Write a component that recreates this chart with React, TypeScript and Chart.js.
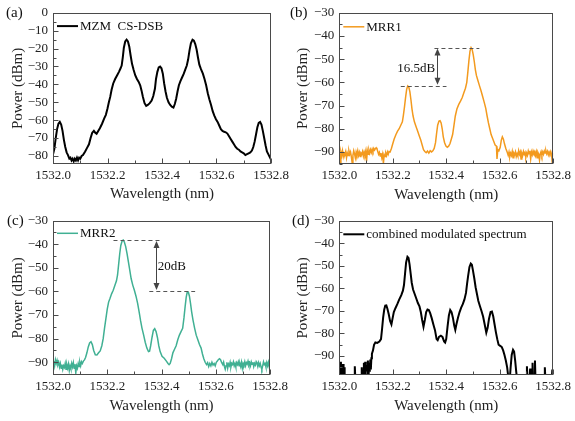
import React, { useEffect, useRef } from 'react';
import { Chart, registerables } from 'chart.js';
Chart.register(...registerables);

const FONT = "'Liberation Serif', 'Times New Roman', serif";

const X_TICKS = [1532.0, 1532.2, 1532.4, 1532.6, 1532.8];
const Y_TICKS_A = [0, -10, -20, -30, -40, -50, -60, -70, -80];
const Y_TICKS_B = [-30, -40, -50, -60, -70, -80, -90];

// (a) MZM CS-DSB
const A_WL = [1532.000,1532.005,1532.010,1532.015,1532.020,1532.025,1532.030,1532.035,1532.040,1532.045,1532.050,1532.055,1532.060,1532.064,1532.068,1532.072,1532.076,1532.080,1532.084,1532.088,1532.092,1532.096,1532.100,1532.105,1532.110,1532.118,1532.125,1532.132,1532.138,1532.144,1532.150,1532.155,1532.160,1532.166,1532.172,1532.180,1532.188,1532.194,1532.200,1532.205,1532.210,1532.215,1532.221,1532.228,1532.235,1532.242,1532.248,1532.252,1532.256,1532.260,1532.265,1532.270,1532.275,1532.280,1532.285,1532.290,1532.296,1532.302,1532.308,1532.314,1532.320,1532.325,1532.330,1532.336,1532.342,1532.348,1532.355,1532.362,1532.368,1532.374,1532.378,1532.383,1532.388,1532.393,1532.398,1532.403,1532.408,1532.413,1532.418,1532.424,1532.430,1532.436,1532.442,1532.447,1532.452,1532.457,1532.462,1532.468,1532.474,1532.480,1532.486,1532.491,1532.496,1532.501,1532.506,1532.512,1532.517,1532.522,1532.527,1532.532,1532.537,1532.543,1532.550,1532.556,1532.562,1532.568,1532.574,1532.580,1532.586,1532.592,1532.598,1532.604,1532.610,1532.616,1532.622,1532.628,1532.634,1532.640,1532.646,1532.652,1532.658,1532.664,1532.670,1532.676,1532.682,1532.688,1532.694,1532.700,1532.706,1532.712,1532.718,1532.724,1532.730,1532.735,1532.740,1532.745,1532.750,1532.755,1532.760,1532.765,1532.770,1532.775,1532.780,1532.785,1532.790,1532.795,1532.800];
const A_DBM = [-79,-76,-70,-65,-62,-61,-62.5,-66,-71,-75,-78,-79.5,-81.5,-81,-82.5,-81.5,-83,-81.5,-82.5,-81,-82.5,-81,-81.5,-80,-79.5,-77.5,-75.5,-73.5,-70,-67,-66,-67,-67.6,-66,-64.5,-62,-59,-57,-53.5,-50,-47,-43,-39.5,-37,-35,-33,-31,-29.5,-25,-19.5,-16,-15,-16,-19,-24,-28.5,-32,-35,-37,-38.5,-40.5,-43.5,-47,-50.5,-52,-51.5,-50.5,-49,-46.5,-42.5,-37,-33,-30.5,-30,-31,-34,-39.5,-44,-47.5,-50,-51.5,-52.5,-53,-51,-48,-44,-40.5,-38,-36,-34,-31.5,-29.5,-26,-21,-17,-15,-15.5,-17.5,-20.5,-25,-29,-31.5,-34,-37,-40.5,-45,-48.5,-51.5,-55,-57.5,-59.5,-61,-63,-65,-66,-66.5,-66.8,-67.5,-69,-70.5,-72,-73.5,-75,-76,-76.5,-77.5,-78,-78.5,-79.5,-79,-78.5,-78,-77,-75,-72,-68,-64,-61.5,-61,-62.5,-66,-70,-74,-77.5,-79,-80.5,-82];

// (b) MRR1
const B_WL = [1532.000,1532.003,1532.006,1532.009,1532.012,1532.015,1532.018,1532.021,1532.024,1532.027,1532.030,1532.033,1532.036,1532.039,1532.042,1532.045,1532.048,1532.051,1532.054,1532.057,1532.060,1532.063,1532.066,1532.069,1532.072,1532.075,1532.078,1532.081,1532.084,1532.087,1532.090,1532.093,1532.096,1532.099,1532.102,1532.105,1532.108,1532.111,1532.114,1532.117,1532.120,1532.123,1532.126,1532.129,1532.132,1532.135,1532.138,1532.141,1532.144,1532.147,1532.150,1532.153,1532.156,1532.159,1532.162,1532.165,1532.168,1532.171,1532.174,1532.177,1532.180,1532.183,1532.186,1532.190,1532.195,1532.200,1532.205,1532.212,1532.218,1532.224,1532.230,1532.236,1532.240,1532.244,1532.248,1532.252,1532.256,1532.260,1532.264,1532.268,1532.272,1532.276,1532.281,1532.287,1532.293,1532.299,1532.305,1532.310,1532.315,1532.320,1532.325,1532.330,1532.335,1532.340,1532.345,1532.350,1532.355,1532.360,1532.364,1532.368,1532.373,1532.377,1532.381,1532.385,1532.389,1532.394,1532.399,1532.404,1532.409,1532.414,1532.419,1532.424,1532.429,1532.434,1532.440,1532.447,1532.454,1532.460,1532.466,1532.472,1532.477,1532.481,1532.485,1532.489,1532.493,1532.497,1532.501,1532.505,1532.509,1532.513,1532.518,1532.524,1532.530,1532.536,1532.542,1532.548,1532.553,1532.558,1532.563,1532.568,1532.573,1532.578,1532.583,1532.588,1532.590,1532.593,1532.597,1532.602,1532.606,1532.610,1532.614,1532.618,1532.623,1532.628,1532.632,1532.635,1532.638,1532.641,1532.644,1532.647,1532.650,1532.653,1532.656,1532.659,1532.662,1532.665,1532.668,1532.671,1532.674,1532.677,1532.680,1532.683,1532.686,1532.689,1532.692,1532.695,1532.698,1532.701,1532.704,1532.707,1532.710,1532.713,1532.716,1532.719,1532.722,1532.725,1532.728,1532.731,1532.734,1532.737,1532.740,1532.743,1532.746,1532.749,1532.752,1532.755,1532.758,1532.761,1532.764,1532.767,1532.770,1532.773,1532.776,1532.779,1532.782,1532.785,1532.788,1532.791,1532.794,1532.797,1532.800];
const B_DBM = [-90.5,-95,-90,-91.5,-89.5,-92,-90.5,-91,-89.8,-92.5,-90.5,-91.5,-89.5,-91,-90,-92,-94.5,-91.5,-89.5,-90.8,-92.5,-90,-91.2,-89.5,-91.5,-90.2,-92,-90.5,-91,-89.8,-91.8,-90,-91.2,-89.6,-94,-89.5,-91,-89.2,-90.5,-89,-90.2,-88.8,-89.8,-88.5,-89.2,-88.6,-88.2,-88.7,-89.8,-91,-90.2,-91.8,-90.5,-92.5,-91,-95,-91.2,-92,-90.5,-91.5,-90,-91,-89.8,-90,-88.5,-86.5,-84.5,-82.5,-81,-80,-78.5,-77,-74,-70.5,-66.5,-63,-61.5,-62,-64,-67.5,-71.5,-74.5,-77,-79,-81,-83,-85,-87,-89,-89.8,-90.3,-89.6,-90.5,-89.5,-90,-89.5,-88.5,-86,-82,-78.5,-76.7,-76.5,-77.5,-80,-83.5,-86,-87.5,-88,-87.5,-86.5,-84.5,-82.5,-78.5,-74.5,-71.5,-69.5,-68,-66.5,-64.5,-62.5,-60,-55.5,-50.5,-46.5,-45,-45.8,-48,-51,-54.5,-57,-59,-61.3,-63.5,-66,-68.5,-71.2,-74.5,-77.5,-80,-82.5,-84,-85.5,-87,-87.5,-93,-89,-89.5,-88,-85,-83.5,-84.5,-86.5,-88.5,-90,-91.5,-90,-92,-90.5,-91.5,-89.8,-92.5,-90.5,-91.2,-90,-92,-90.8,-91.8,-89.5,-91,-90,-93,-90.5,-91.5,-89.8,-91,-90.2,-92.2,-90.5,-91.5,-89.6,-90.8,-89.5,-93,-90,-91.2,-89.5,-90.5,-89.8,-91.5,-90,-92.5,-90.2,-91,-93.5,-90.8,-89.8,-91.5,-90,-91,-89.6,-90.5,-89.5,-90.8,-89.8,-91.2,-90,-90.8,-89.8,-91,-95,-90.5];

// (c) MRR2
const C_WL = [1532.000,1532.003,1532.006,1532.009,1532.012,1532.015,1532.018,1532.021,1532.024,1532.027,1532.030,1532.033,1532.036,1532.039,1532.042,1532.045,1532.048,1532.051,1532.054,1532.057,1532.060,1532.063,1532.066,1532.069,1532.072,1532.075,1532.078,1532.081,1532.084,1532.087,1532.090,1532.093,1532.096,1532.099,1532.102,1532.105,1532.108,1532.112,1532.116,1532.120,1532.125,1532.130,1532.135,1532.140,1532.145,1532.150,1532.156,1532.162,1532.168,1532.174,1532.180,1532.185,1532.190,1532.195,1532.200,1532.205,1532.210,1532.216,1532.222,1532.228,1532.234,1532.238,1532.242,1532.246,1532.250,1532.255,1532.259,1532.263,1532.268,1532.273,1532.278,1532.283,1532.288,1532.294,1532.300,1532.306,1532.312,1532.318,1532.323,1532.328,1532.334,1532.340,1532.346,1532.352,1532.356,1532.360,1532.365,1532.370,1532.375,1532.380,1532.385,1532.390,1532.395,1532.402,1532.410,1532.418,1532.424,1532.428,1532.432,1532.437,1532.442,1532.448,1532.454,1532.460,1532.466,1532.472,1532.478,1532.483,1532.487,1532.491,1532.495,1532.499,1532.503,1532.507,1532.511,1532.516,1532.522,1532.528,1532.534,1532.540,1532.546,1532.551,1532.556,1532.561,1532.566,1532.570,1532.574,1532.578,1532.582,1532.586,1532.590,1532.594,1532.598,1532.602,1532.606,1532.610,1532.614,1532.618,1532.622,1532.626,1532.629,1532.632,1532.635,1532.638,1532.641,1532.644,1532.647,1532.650,1532.653,1532.656,1532.659,1532.662,1532.665,1532.668,1532.671,1532.674,1532.677,1532.680,1532.683,1532.686,1532.689,1532.692,1532.695,1532.698,1532.701,1532.704,1532.707,1532.710,1532.713,1532.716,1532.719,1532.722,1532.725,1532.728,1532.731,1532.734,1532.737,1532.740,1532.743,1532.746,1532.749,1532.752,1532.755,1532.758,1532.761,1532.764,1532.767,1532.770,1532.773,1532.776,1532.779,1532.782,1532.785,1532.788,1532.791,1532.794,1532.797,1532.800];
const C_DBM = [-91,-89.5,-91.5,-89,-90.5,-89.2,-91,-90,-92,-90.5,-92.5,-91,-93,-91.5,-92.2,-90.5,-93,-91,-92.5,-90.8,-93.5,-91.5,-92.8,-90.5,-92,-90.2,-92.5,-90.8,-94.5,-91.5,-92.5,-90.5,-91.8,-90,-91.5,-89.8,-90.5,-89.5,-89,-88,-86,-83.5,-81.8,-81.3,-82.5,-85,-86.8,-86.9,-86,-85.2,-83,-80,-75.5,-71.5,-67.5,-64.5,-63,-61,-59.5,-57.5,-55.5,-53,-48.5,-44,-40.5,-38.5,-38.2,-39,-41,-44,-47.5,-51,-54.5,-57.3,-59.5,-62,-65,-69,-72.5,-75.5,-78.4,-81.5,-84,-85.5,-85.3,-83,-79.5,-76.5,-75.8,-77,-79.5,-83,-85.5,-87.5,-88.3,-89.5,-90.5,-91,-90.5,-88.5,-86,-84.5,-83,-80.5,-78.5,-77,-75.6,-71,-66.5,-62.5,-60.2,-60.3,-62,-65,-68.5,-72,-75.5,-78.5,-80.5,-82.5,-84,-86.5,-88.5,-90,-91,-90.2,-91.8,-90.5,-91.5,-90,-91.2,-90.5,-91.5,-90,-89.5,-88.8,-88.5,-89,-90.2,-91,-90,-91.8,-93,-91.5,-90,-92.5,-90.8,-91.5,-90,-92,-90.5,-91,-89.8,-91.5,-90.5,-92,-90.2,-91,-89.8,-91.5,-90.5,-91.8,-90,-92.5,-90.5,-91.2,-89.8,-91.5,-90.2,-90.8,-89.5,-91,-90.2,-91.5,-89.8,-90.8,-90,-91.8,-90.5,-91.2,-89.8,-90.5,-91.8,-90.2,-91.5,-90.5,-92,-93,-91.5,-89.8,-91,-90.5,-92,-90.2,-91.5,-90,-91.8,-90.8];

// (d) combined modulated spectrum
const D_WL = [1532.000,1532.002,1532.004,1532.006,1532.008,1532.010,1532.012,1532.014,1532.016,1532.018,1532.020,1532.056,1532.058,1532.060,1532.082,1532.084,1532.086,1532.090,1532.092,1532.094,1532.097,1532.099,1532.102,1532.104,1532.107,1532.109,1532.112,1532.114,1532.116,1532.118,1532.120,1532.122,1532.126,1532.130,1532.135,1532.142,1532.150,1532.156,1532.160,1532.164,1532.168,1532.172,1532.176,1532.180,1532.185,1532.190,1532.195,1532.199,1532.204,1532.210,1532.217,1532.224,1532.232,1532.238,1532.242,1532.246,1532.250,1532.255,1532.259,1532.263,1532.267,1532.271,1532.276,1532.282,1532.288,1532.294,1532.300,1532.305,1532.310,1532.315,1532.320,1532.325,1532.330,1532.335,1532.340,1532.346,1532.352,1532.358,1532.364,1532.368,1532.373,1532.380,1532.386,1532.392,1532.396,1532.400,1532.405,1532.410,1532.415,1532.420,1532.425,1532.430,1532.434,1532.438,1532.444,1532.450,1532.456,1532.462,1532.468,1532.474,1532.478,1532.482,1532.487,1532.492,1532.496,1532.500,1532.505,1532.510,1532.515,1532.520,1532.526,1532.532,1532.538,1532.544,1532.550,1532.555,1532.560,1532.566,1532.571,1532.576,1532.581,1532.586,1532.591,1532.596,1532.602,1532.608,1532.613,1532.618,1532.623,1532.628,1532.633,1532.638,1532.641,1532.645,1532.650,1532.654,1532.658,1532.662,1532.665,1532.700,1532.702,1532.704,1532.712,1532.714,1532.716,1532.721,1532.723,1532.725,1532.730,1532.732,1532.734,1532.767,1532.769,1532.771,1532.795,1532.797,1532.799,1532.800];
const D_DBM = [-100,-93,-100,-92.5,-100,-94,-100,-93.5,-100,-95,-100,-100,-94.5,-100,-100,-95,-100,-100,-93,-100,-92.5,-100,-94,-100,-92,-100,-93,-97,-91.5,-96,-91,-89,-87.5,-85,-84,-84.2,-83.6,-82.5,-78,-73,-69.5,-67.6,-67.5,-69,-71.5,-74.5,-76,-73.5,-70.5,-68.8,-67,-65,-63,-61,-58.5,-53.5,-48.5,-46,-46.5,-49.5,-53.5,-57.5,-60.5,-62.5,-64.5,-66.5,-68,-70.5,-74,-77,-74,-70.5,-69.4,-69.6,-71,-73.3,-76,-78.5,-82.5,-83,-81.5,-81,-81.5,-83.5,-84,-82.5,-77,-72,-69.6,-70.5,-73,-76.5,-78.4,-76,-73,-70.5,-68.5,-67,-65,-62,-58,-54.5,-50.5,-49,-49.5,-52,-55.5,-59.5,-62.5,-65.5,-67.8,-70,-72.5,-76,-79.6,-77.5,-73.5,-70.5,-70.3,-72.5,-76,-79.5,-82.5,-85,-85.5,-86,-87.5,-89.5,-92,-95,-100,-100,-95,-89.5,-87.2,-88,-92,-97,-100,-100,-94.5,-100,-100,-95.5,-100,-100,-93,-100,-100,-92,-100,-100,-95,-100,-100,-96,-100,-100];

// annotation values: [x1, x2, y] dashed levels, [x, yTop, yBottom] arrows, label positions
const B_LEVELS = [[1532.356, 1532.524, -45], [1532.230, 1532.401, -61.5]];
const B_ARROW = [1532.367, -45, -61.5];
const B_NOTE = [1532.288, -54.2];
const C_LEVELS = [[1532.223, 1532.395, -38.2], [1532.355, 1532.524, -59.8]];
const C_ARROW = [1532.378, -38.2, -59.8];
const C_NOTE = [1532.438, -49.5];

const fmtY = (v: number) => (v < 0 ? '\u2212' + Math.abs(v) : String(v));

const decorPlugin = {
  id: 'decor',
  afterDraw(chart: any, _args: any, opts: any) {
    const { ctx, chartArea: ca } = chart;
    const xs = chart.scales.x;
    const ys = chart.scales.y;
    ctx.save();
    // frame
    ctx.strokeStyle = '#4a4a4a';
    ctx.lineWidth = 1;
    ctx.strokeRect(Math.round(ca.left) + 0.5, Math.round(ca.top) + 0.5, Math.round(ca.right - ca.left) - 1, Math.round(ca.bottom - ca.top) - 1);
    const line = (x1: number, y1: number, x2: number, y2: number) => {
      ctx.beginPath(); ctx.moveTo(x1, y1); ctx.lineTo(x2, y2); ctx.stroke();
    };
    // x ticks (inward)
    const xt = xs.ticks.map((t: any) => t.value);
    const xb = Math.round(ca.bottom) - 0.5;
    xt.forEach((v: number, i: number) => {
      const p = Math.round(xs.getPixelForValue(v)) + 0.5;
      line(p, xb, p, xb - 5);
      if (i < xt.length - 1) {
        const m = Math.round(xs.getPixelForValue((v + xt[i + 1]) / 2)) + 0.5;
        line(m, xb, m, xb - 3);
      }
    });
    // y ticks (inward)
    const yt = ys.ticks.map((t: any) => t.value);
    const yl = Math.round(ca.left) + 0.5;
    yt.forEach((v: number, i: number) => {
      const p = Math.round(ys.getPixelForValue(v)) + 0.5;
      line(yl, p, yl + 5, p);
      const next = i < yt.length - 1 ? yt[i + 1] : v - 10;
      const mv = (v + next) / 2;
      if (mv > ys.min) {
        const m = Math.round(ys.getPixelForValue(mv)) + 0.5;
        line(yl, m, yl + 3, m);
      }
    });
    // legend
    if (opts.legend) {
      const ly = ca.top + opts.legend.dy;
      ctx.strokeStyle = opts.legend.color;
      ctx.lineWidth = opts.legend.width;
      line(ca.left + 4, ly, ca.left + 25, ly);
      ctx.fillStyle = '#111';
      ctx.font = `13px ${FONT}`;
      ctx.textBaseline = 'middle';
      ctx.textAlign = 'left';
      ctx.fillText(opts.legend.text, ca.left + 27, ly + 0.5);
    }
    // annotations
    if (opts.levels) {
      ctx.strokeStyle = '#555';
      ctx.lineWidth = 1;
      ctx.setLineDash([4, 3]);
      opts.levels.forEach((l: number[]) => {
        const y = Math.round(ys.getPixelForValue(l[2])) + 0.5;
        line(xs.getPixelForValue(l[0]), y, xs.getPixelForValue(l[1]), y);
      });
      ctx.setLineDash([]);
      const ax = Math.round(xs.getPixelForValue(opts.arrow[0])) + 0.5;
      const y1 = ys.getPixelForValue(opts.arrow[1]) + 1;
      const y2 = ys.getPixelForValue(opts.arrow[2]) - 1;
      ctx.strokeStyle = '#444';
      line(ax, y1 + 5, ax, y2 - 5);
      ctx.fillStyle = '#444';
      ctx.beginPath(); ctx.moveTo(ax, y1); ctx.lineTo(ax - 3, y1 + 7); ctx.lineTo(ax + 3, y1 + 7); ctx.closePath(); ctx.fill();
      ctx.beginPath(); ctx.moveTo(ax, y2); ctx.lineTo(ax - 3, y2 - 7); ctx.lineTo(ax + 3, y2 - 7); ctx.closePath(); ctx.fill();
      ctx.fillStyle = '#111';
      ctx.font = `13px ${FONT}`;
      ctx.textAlign = 'center';
      ctx.textBaseline = 'middle';
      ctx.fillText(opts.noteText, xs.getPixelForValue(opts.note[0]), ys.getPixelForValue(opts.note[1]));
    }
    ctx.restore();
  },
};

type PanelCfg = {
  left: number; top: number; w: number; h: number;
  yWidth: number; xHeight: number; padTop: number; padRight: number;
  yTitlePad: number; xTitlePad: number;
  wl: number[]; dbm: number[]; color: string; lw: number;
  yMin: number; yMax: number; yTicks: number[];
  tag: string; tagLeft: number; tagTop: number;
  legend: any; levels?: number[][]; arrow?: number[]; note?: number[]; noteText?: string;
};

function Panel({ cfg }: { cfg: PanelCfg }) {
  const ref = useRef<HTMLCanvasElement>(null);
  useEffect(() => {
    const data = cfg.wl.map((x, i) => ({ x, y: cfg.dbm[i] }));
    const tickFont = { family: FONT, size: 13 };
    const titleFont = { family: FONT, size: 15 };
    const chart = new Chart(ref.current as HTMLCanvasElement, {
      type: 'line',
      data: {
        datasets: [{
          data,
          borderColor: cfg.color,
          borderWidth: cfg.lw,
          pointRadius: 0,
          tension: 0,
          fill: false,
        }],
      },
      options: {
        animation: false,
        responsive: false,
        devicePixelRatio: 1,
        events: [],
        layout: { padding: { top: cfg.padTop, right: cfg.padRight, left: 0, bottom: 0 } },
        plugins: {
          legend: { display: false },
          tooltip: { enabled: false },
          decor: { legend: cfg.legend, levels: cfg.levels, arrow: cfg.arrow, note: cfg.note, noteText: cfg.noteText },
        } as any,
        scales: {
          x: {
            type: 'linear',
            min: 1532.0,
            max: 1532.8,
            afterBuildTicks: (s: any) => { s.ticks = X_TICKS.map((v) => ({ value: v })); },
            afterFit: (s: any) => { s.height = cfg.xHeight; },
            grid: { display: false, drawTicks: false },
            border: { display: false },
            ticks: {
              padding: 4, color: '#222', font: tickFont, maxRotation: 0, autoSkip: false,
              callback: (v: any) => Number(v).toFixed(1),
            },
            title: { display: true, text: 'Wavelength (nm)', color: '#222', font: titleFont, padding: { top: 0, bottom: cfg.xTitlePad } },
          },
          y: {
            type: 'linear',
            min: cfg.yMin,
            max: cfg.yMax,
            afterBuildTicks: (s: any) => { s.ticks = cfg.yTicks.map((v) => ({ value: v })); },
            afterFit: (s: any) => { s.width = cfg.yWidth; },
            grid: { display: false, drawTicks: false },
            border: { display: false },
            ticks: { padding: 5, color: '#222', font: tickFont, autoSkip: false, callback: (v: any) => fmtY(Number(v)) },
            title: { display: true, text: 'Power (dBm)', color: '#222', font: titleFont, padding: { top: cfg.yTitlePad, bottom: 0 } },
          },
        },
      },
      plugins: [decorPlugin],
    } as any);
    return () => chart.destroy();
  }, [cfg]);
  return (
    <>
      <canvas
        ref={ref}
        width={cfg.w}
        height={cfg.h}
        style={{ position: 'absolute', left: cfg.left, top: cfg.top, width: cfg.w, height: cfg.h }}
      />
      <div style={{ position: 'absolute', left: cfg.tagLeft, top: cfg.tagTop, font: `15px ${FONT}`, lineHeight: '18px', color: '#111' }}>{cfg.tag}</div>
    </>
  );
}

const PANELS: PanelCfg[] = [
  {
    left: 0, top: 0, w: 300, h: 210, yWidth: 53, xHeight: 46, padTop: 9.5, padRight: 29,
    yTitlePad: 9, xTitlePad: 7, wl: A_WL, dbm: A_DBM, color: '#000', lw: 2,
    yMin: -84.5, yMax: 0, yTicks: Y_TICKS_A, tag: '(a)', tagLeft: 6, tagTop: 3,
    legend: { text: 'MZM  CS-DSB', color: '#000', width: 2, dy: 13.3 },
  },
  {
    left: 282, top: 0, w: 293, h: 210, yWidth: 57.3, xHeight: 46, padTop: 9.3, padRight: 18.3,
    yTitlePad: 12, xTitlePad: 6, wl: B_WL, dbm: B_DBM, color: '#F39A1E', lw: 1.5,
    yMin: -95.2, yMax: -30, yTicks: Y_TICKS_B, tag: '(b)', tagLeft: 290, tagTop: 3,
    legend: { text: 'MRR1', color: '#F39A1E', width: 1.5, dy: 14 },
    levels: B_LEVELS, arrow: B_ARROW, note: B_NOTE, noteText: '16.5dB',
  },
  {
    left: 0, top: 205, w: 300, h: 216, yWidth: 53, xHeight: 46, padTop: 15.7, padRight: 30,
    yTitlePad: 9, xTitlePad: 6, wl: C_WL, dbm: C_DBM, color: '#40B093', lw: 1.5,
    yMin: -95.4, yMax: -30, yTicks: Y_TICKS_B, tag: '(c)', tagLeft: 7, tagTop: 211,
    legend: { text: 'MRR2', color: '#40B093', width: 1.5, dy: 12.6 },
    levels: C_LEVELS, arrow: C_ARROW, note: C_NOTE, noteText: '20dB',
  },
  {
    left: 282, top: 205, w: 293, h: 216, yWidth: 57.3, xHeight: 46, padTop: 15.7, padRight: 18.3,
    yTitlePad: 12, xTitlePad: 6, wl: D_WL, dbm: D_DBM, color: '#000', lw: 2,
    yMin: -98.4, yMax: -30, yTicks: Y_TICKS_B, tag: '(d)', tagLeft: 292, tagTop: 211,
    legend: { text: 'combined modulated spectrum', color: '#000', width: 2, dy: 13.6 },
  },
];

export default function App() {
  return (
    <div style={{ position: 'fixed', left: 0, top: 0, width: 575, height: 421, background: '#fff', overflow: 'hidden' }}>
      {PANELS.map((p, i) => <Panel key={i} cfg={p} />)}
    </div>
  );
}
